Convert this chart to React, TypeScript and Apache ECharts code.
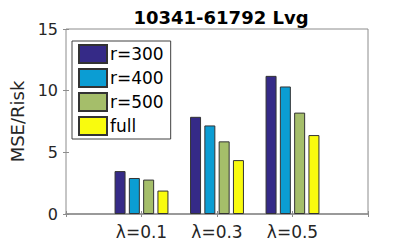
import React, { useEffect, useRef } from "react";
import * as echarts from "echarts";

const title = "10341-61792 Lvg";
const categories = ["λ=0.1", "λ=0.3", "λ=0.5"];
const seriesNames = ["r=300", "r=400", "r=500", "full"];
const r300 = [3.48, 7.88, 11.2];
const r400 = [2.92, 7.18, 10.34];
const r500 = [2.79, 5.89, 8.22];
const full = [1.9, 4.37, 6.4];
const yTicks = [0, 5, 10, 15];
const colors = ["#352a87", "#0b9dd3", "#a5be6a", "#f9fb0e"];

const FONT = "DejaVu Sans";

export default function App() {
  const ref = useRef<HTMLDivElement>(null);
  useEffect(() => {
    if (!ref.current) return;
    document.body.style.margin = "0";
    const chart = echarts.init(ref.current, null, { renderer: "svg" });
    const values = [r300, r400, r500, full];
    const axisColor = "#8c8c8c";
    const labelColor = "#262626";
    chart.setOption({
      animation: false,
      backgroundColor: "#fff",
      title: {
        text: title,
        left: 216,
        textAlign: "center",
        top: 3,
        textStyle: { fontFamily: FONT, fontWeight: "bold", fontSize: 18, color: "#000" },
      },
      legend: {
        orient: "vertical",
        left: 72,
        top: 41,
        padding: [3, 7, 3, 6],
        itemWidth: 28,
        itemHeight: 18,
        itemGap: 4,
        icon: "rect",
        backgroundColor: "#fff",
        borderColor: "#404040",
        borderWidth: 1,
        borderRadius: 0,
        data: seriesNames,
        textStyle: { fontFamily: FONT, fontSize: 17, color: "#000", padding: [0, 0, 0, -2] },
      },
      grid: {
        left: 65,
        right: 39,
        top: 29,
        bottom: 31,
        show: true,
        borderColor: axisColor,
        borderWidth: 1,
        backgroundColor: "#fff",
      },
      xAxis: [
        {
          type: "value",
          min: 0,
          max: categories.length + 1,
          interval: 1,
          position: "bottom",
          axisLine: { show: true, lineStyle: { color: axisColor, width: 1.5 } },
          axisTick: { show: true, inside: true, length: 3, lineStyle: { color: axisColor } },
          splitLine: { show: false },
          axisLabel: {
            margin: 9,
            fontFamily: FONT,
            fontSize: 17,
            color: labelColor,
            formatter: (v: number) => (v >= 1 && v <= categories.length ? categories[v - 1] : ""),
          },
        },
        {
          type: "value",
          min: 0,
          max: categories.length + 1,
          interval: 1,
          position: "top",
          axisLine: { show: false },
          axisTick: { show: true, inside: true, length: 3, lineStyle: { color: axisColor } },
          splitLine: { show: false },
          axisLabel: { show: false },
        },
      ],
      yAxis: [
        {
          type: "value",
          min: yTicks[0],
          max: yTicks[yTicks.length - 1],
          interval: 5,
          name: "MSE/Risk",
          nameLocation: "middle",
          nameGap: 40,
          nameTextStyle: { fontFamily: FONT, fontSize: 18, color: labelColor },
          axisLine: { show: false },
          axisTick: { show: true, inside: true, length: 3, lineStyle: { color: axisColor } },
          splitLine: { show: false },
          axisLabel: { margin: 8, fontFamily: FONT, fontSize: 16, color: labelColor },
        },
        {
          type: "value",
          min: yTicks[0],
          max: yTicks[yTicks.length - 1],
          interval: 5,
          position: "right",
          axisLine: { show: false },
          axisTick: { show: true, inside: true, length: 3, lineStyle: { color: axisColor } },
          splitLine: { show: false },
          axisLabel: { show: false },
        },
      ],
      series: seriesNames.map((name, i) => ({
        name,
        type: "bar",
        xAxisIndex: 0,
        yAxisIndex: 0,
        barWidth: 11,
        barGap: "30%",
        itemStyle: { color: colors[i], borderColor: "#333", borderWidth: 1 },
        data: values[i].map((v, j) => [j + 1, v]),
      })),
    });
    return () => chart.dispose();
  }, []);
  return <div ref={ref} style={{ width: 407, height: 245 }} />;
}
